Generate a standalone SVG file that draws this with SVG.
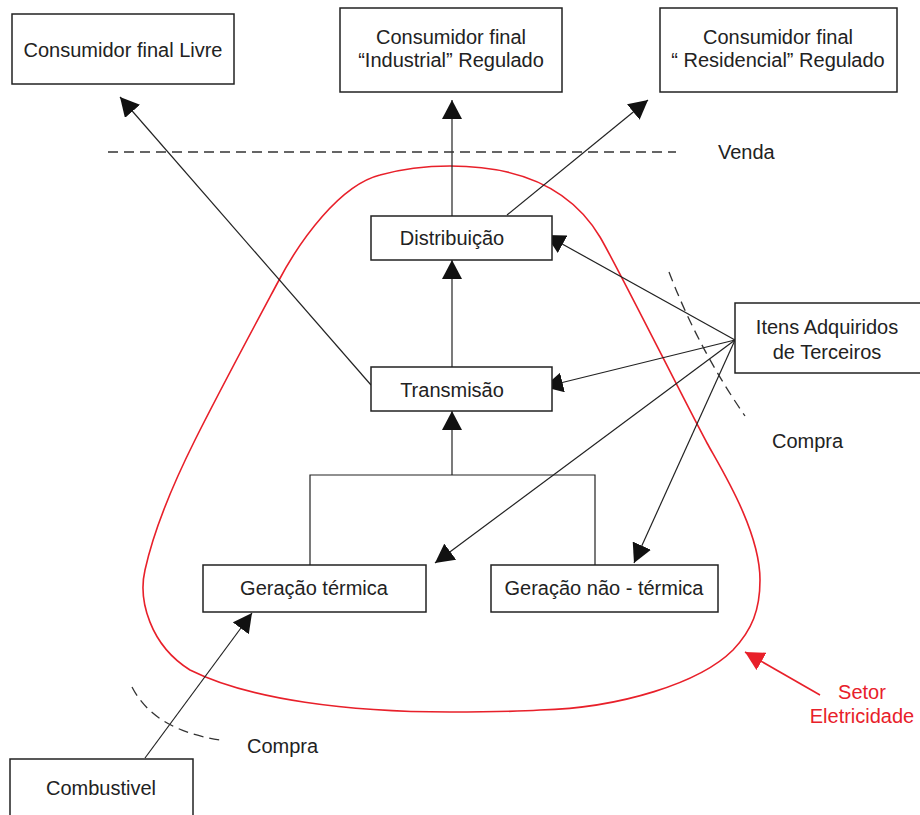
<svg xmlns="http://www.w3.org/2000/svg" width="920" height="815" viewBox="0 0 920 815">
<style>
.box{fill:#fff;stroke:#222;stroke-width:1.5}
.t{font-family:"Liberation Sans",Arial,sans-serif;font-size:20px;fill:#222;text-anchor:middle}
.tl{font-family:"Liberation Sans",Arial,sans-serif;font-size:20px;fill:#222}
.red{font-family:"Liberation Sans",Arial,sans-serif;font-size:20px;fill:#e8202a;text-anchor:middle}
.ln{stroke:#222;stroke-width:1.2;fill:none}
.dash{stroke:#333;stroke-width:1.3;fill:none;stroke-dasharray:10 6}
</style>
<defs>
<marker id="ah" markerUnits="userSpaceOnUse" markerWidth="19" markerHeight="20" refX="19" refY="10" orient="auto">
<path d="M0,0 L19,10 L0,20 z" fill="#111"/>
</marker>
<marker id="ahr" markerUnits="userSpaceOnUse" markerWidth="19" markerHeight="20" refX="19" refY="10" orient="auto">
<path d="M0,0 L19,10 L0,20 z" fill="#e8202a"/>
</marker>
</defs>
<rect width="920" height="815" fill="#fff"/>

<path id="setor" d="M450,166 C530,166 575,195 600,237 C615,262 687,406 707,443 C720,467 760,530 760,580 C760,610 752,630 733,650 C700,683 620,708 540,710 C510,712 480,712 450,712 C350,712 250,700 190,670 C150,645 138,600 145,570 C155,525 175,480 195,440 C220,390 255,325 278,282 C300,240 340,185 380,175 C405,168 425,166 450,166 Z" fill="none" stroke="#e8202a" stroke-width="1.6"/>

<g id="connectors">
<line class="ln" x1="452" y1="216" x2="452" y2="100" marker-end="url(#ah)"/>
<line class="ln" x1="452" y1="367" x2="452" y2="260" marker-end="url(#ah)"/>
<line class="ln" x1="371" y1="385" x2="120" y2="97" marker-end="url(#ah)"/>
<line class="ln" x1="507" y1="215" x2="648" y2="100" marker-end="url(#ah)"/>
<line class="ln" x1="735" y1="340" x2="546" y2="235" marker-end="url(#ah)"/>
<line class="ln" x1="735" y1="340" x2="544" y2="387" marker-end="url(#ah)"/>
<line class="ln" x1="735" y1="340" x2="435" y2="563" marker-end="url(#ah)"/>
<line class="ln" x1="735" y1="340" x2="634" y2="563" marker-end="url(#ah)"/>
<polyline class="ln" points="310,565 310,475 595,475 595,565"/>
<line class="ln" x1="452" y1="475" x2="452" y2="411" marker-end="url(#ah)"/>
<line class="ln" x1="145" y1="758" x2="252" y2="613" marker-end="url(#ah)"/>
<line x1="820" y1="695" x2="745" y2="652" stroke="#e8202a" stroke-width="1.6" marker-end="url(#ahr)"/>
<line class="dash" x1="108" y1="152" x2="676" y2="152"/>
<path class="dash" d="M669,272 Q698,348 745,416"/>
<path class="dash" d="M132,687 Q154,730 220,740"/>
</g>

<g id="n-livre"><rect class="box" x="12" y="14" width="222" height="70"/><text class="t" x="123" y="57">Consumidor final Livre</text></g>
<g id="n-industrial"><rect class="box" x="340" y="8" width="222" height="84"/><text class="t" x="451" y="44">Consumidor final</text><text class="t" x="451" y="67">“Industrial” Regulado</text></g>
<g id="n-residencial"><rect class="box" x="660" y="8" width="237" height="84"/><text class="t" x="778" y="44">Consumidor final</text><text class="t" x="778" y="67">“ Residencial” Regulado</text></g>
<g id="n-distribuicao"><rect class="box" x="371" y="216" width="181" height="44"/><text class="t" x="452" y="245">Distribuição</text></g>
<g id="n-transmisao"><rect class="box" x="371" y="367" width="181" height="44"/><text class="t" x="452" y="397">Transmisão</text></g>
<g id="n-termica"><rect class="box" x="203" y="565" width="223" height="47"/><text class="t" x="314" y="595">Geração térmica</text></g>
<g id="n-naotermica"><rect class="box" x="491" y="565" width="227" height="47"/><text class="t" x="604" y="595">Geração não - térmica</text></g>
<g id="n-itens"><rect class="box" x="735" y="303" width="190" height="70"/><text class="t" x="827" y="334">Itens Adquiridos</text><text class="t" x="827" y="359">de Terceiros</text></g>
<g id="n-combustivel"><rect class="box" x="10" y="759" width="183" height="70"/><text class="t" x="101" y="795">Combustivel</text></g>

<g id="labels">
<text class="tl" x="718" y="159">Venda</text>
<text class="tl" x="772" y="448">Compra</text>
<text class="tl" x="247" y="753">Compra</text>
<text class="red" x="862" y="699">Setor</text>
<text class="red" x="862" y="723">Eletricidade</text>
</g>
</svg>
